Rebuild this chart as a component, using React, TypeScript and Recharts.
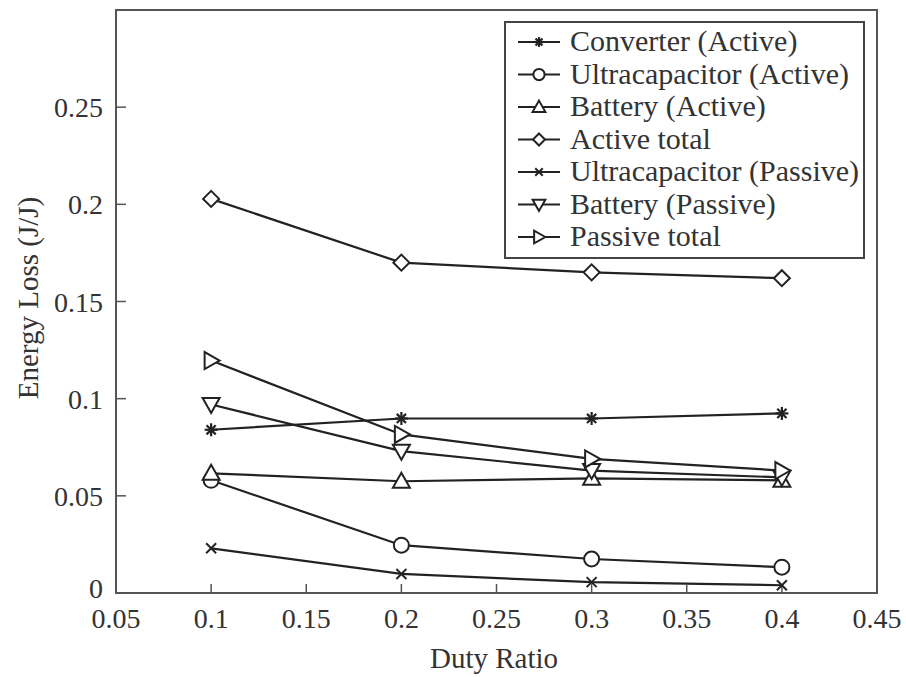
import React from "react";
import { LineChart, Line, XAxis, YAxis, ReferenceArea } from "recharts";

const dutyRatios = [0.1, 0.2, 0.3, 0.4];
const converterActive = [0.084, 0.0898, 0.0898, 0.0924];
const ultracapActive = [0.058, 0.0246, 0.0175, 0.0133];
const batteryActive = [0.0616, 0.0575, 0.059, 0.058];
const activeTotal = [0.2028, 0.17, 0.165, 0.162];
const ultracapPassive = [0.023, 0.0098, 0.0056, 0.004];
const batteryPassive = [0.097, 0.073, 0.063, 0.0595];
const passiveTotal = [0.1196, 0.0816, 0.069, 0.063];

const xTicks = [0.05, 0.1, 0.15, 0.2, 0.25, 0.3, 0.35, 0.4, 0.45];
const yTicks = [0, 0.05, 0.1, 0.15, 0.2, 0.25];

type Shape = "star" | "circle" | "triUp" | "diamond" | "cross" | "triDown" | "triRight";

const series: { key: string; name: string; shape: Shape; values: number[] }[] = [
  { key: "conv", name: "Converter (Active)", shape: "star", values: converterActive },
  { key: "ucA", name: "Ultracapacitor (Active)", shape: "circle", values: ultracapActive },
  { key: "batA", name: "Battery (Active)", shape: "triUp", values: batteryActive },
  { key: "totA", name: "Active total", shape: "diamond", values: activeTotal },
  { key: "ucP", name: "Ultracapacitor (Passive)", shape: "cross", values: ultracapPassive },
  { key: "batP", name: "Battery (Passive)", shape: "triDown", values: batteryPassive },
  { key: "totP", name: "Passive total", shape: "triRight", values: passiveTotal },
];

const data = dutyRatios.map((d, i) => {
  const row: Record<string, number> = { duty: d };
  series.forEach((s) => (row[s.key] = s.values[i]));
  return row;
});

const INK = "#222";
const TEXT = "#333";
const FONT = "Liberation Serif";

function Marker({ cx, cy, shape, s = 1 }: { cx: number; cy: number; shape: Shape; s?: number }) {
  const p = { stroke: INK, strokeWidth: 2, fill: "#fff" };
  const k = (v: number) => v * s;
  switch (shape) {
    case "star": {
      const r = k(6.5);
      return (
        <g stroke={INK} strokeWidth={2.2}>
          {[0, 45, 90, 135].map((a) => {
            const dx = r * Math.cos((a * Math.PI) / 180);
            const dy = r * Math.sin((a * Math.PI) / 180);
            return <line key={a} x1={cx - dx} y1={cy - dy} x2={cx + dx} y2={cy + dy} />;
          })}
        </g>
      );
    }
    case "circle":
      return <circle cx={cx} cy={cy} r={k(7.5)} {...p} />;
    case "triUp":
      return <polygon points={`${cx},${cy - k(8.5)} ${cx + k(8.5)},${cy + k(6.5)} ${cx - k(8.5)},${cy + k(6.5)}`} {...p} />;
    case "triDown":
      return <polygon points={`${cx},${cy + k(8.5)} ${cx + k(8.5)},${cy - k(6.5)} ${cx - k(8.5)},${cy - k(6.5)}`} {...p} />;
    case "triRight":
      return <polygon points={`${cx + k(8.5)},${cy} ${cx - k(6.5)},${cy - k(8.5)} ${cx - k(6.5)},${cy + k(8.5)}`} {...p} />;
    case "diamond":
      return <polygon points={`${cx},${cy - k(8)} ${cx + k(8)},${cy} ${cx},${cy + k(8)} ${cx - k(8)},${cy}`} {...p} />;
    case "cross":
      return (
        <g stroke={INK} strokeWidth={2}>
          <line x1={cx - k(5)} y1={cy - k(5)} x2={cx + k(5)} y2={cy + k(5)} />
          <line x1={cx - k(5)} y1={cy + k(5)} x2={cx + k(5)} y2={cy - k(5)} />
        </g>
      );
  }
}

// legend drawn as svg so the serif font is used everywhere
function LegendBox() {
  return (
    <svg
      width={906}
      height={677}
      style={{ position: "absolute", left: 0, top: 0, pointerEvents: "none" }}
    >
      <rect x={505} y={22} width={359} height={236} fill="#fff" stroke="#444" strokeWidth={2} />
      {series.map((s, i) => {
        const cy = 42 + i * 32.5;
        return (
          <g key={s.key}>
            <line x1={518} y1={cy} x2={560} y2={cy} stroke={INK} strokeWidth={2} />
            <Marker cx={539} cy={cy} shape={s.shape} s={0.75} />
            <text x={570} y={cy + 9} fill={TEXT} fontSize={30} fontFamily={FONT}>
              {s.name}
            </text>
          </g>
        );
      })}
    </svg>
  );
}

function XTick(props: any) {
  const { x, y, payload } = props;
  return (
    <text x={x} y={y + 20} textAnchor="middle" fill={TEXT} fontSize={28} fontFamily={FONT}>
      {payload.value}
    </text>
  );
}

function YTick(props: any) {
  const { x, y, payload } = props;
  const dy = payload.value === 0 ? 5 : 10;
  return (
    <text x={x} y={y + dy} textAnchor="end" fill={TEXT} fontSize={28} fontFamily={FONT}>
      {payload.value}
    </text>
  );
}

export default function App() {
  return (
    <div style={{ position: "absolute", left: 0, top: 0, width: 906, height: 677, background: "#fff" }}>
      <LineChart
        width={906}
        height={677}
        data={data}
        margin={{ top: 10, right: 29, bottom: 0, left: 0 }}
      >
        <ReferenceArea
          x1={0.05}
          x2={0.45}
          y1={0}
          y2={0.3}
          fill="none"
          stroke="#555"
          strokeWidth={2}
          ifOverflow="visible"
        />
        <XAxis
          dataKey="duty"
          type="number"
          domain={[0.05, 0.45]}
          ticks={xTicks}
          height={84}
          tickSize={-9}
          tickMargin={24}
          axisLine={{ stroke: "#555", strokeWidth: 2 }}
          tickLine={{ stroke: "#555", strokeWidth: 1.5 }}
          tick={<XTick />}
          label={() => (
            <text x={494} y={668} textAnchor="middle" fill={TEXT} fontSize={29} fontFamily={FONT}>
              Duty Ratio
            </text>
          )}
        />
        <YAxis
          type="number"
          domain={[0, 0.3]}
          ticks={yTicks}
          width={116}
          tickSize={-10}
          tickMargin={23}
          axisLine={{ stroke: "#555", strokeWidth: 2 }}
          tickLine={{ stroke: "#555", strokeWidth: 1.5 }}
          tick={<YTick />}
          label={() => (
            <text
              x={38}
              y={298}
              transform="rotate(-90, 38, 298)"
              textAnchor="middle"
              fill={TEXT}
              fontSize={29}
              fontFamily={FONT}
            >
              Energy Loss (J/J)
            </text>
          )}
        />
        {series.map((s) => (
          <Line
            key={s.key}
            dataKey={s.key}
            name={s.name}
            stroke={INK}
            strokeWidth={2.2}
            isAnimationActive={false}
            dot={(props: any) => (
              <Marker key={`${s.key}-${props.index}`} cx={props.cx} cy={props.cy} shape={s.shape} />
            )}
            activeDot={false}
          />
        ))}
      </LineChart>
      <LegendBox />
    </div>
  );
}
